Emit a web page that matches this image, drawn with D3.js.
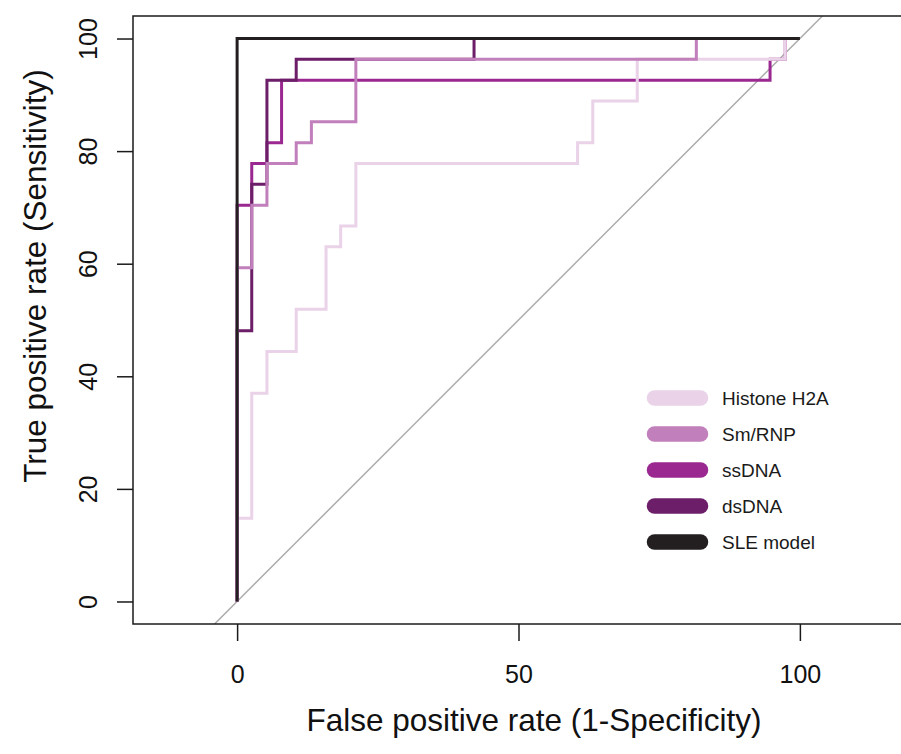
<!DOCTYPE html>
<html>
<head>
<meta charset="utf-8">
<script src="https://cdn.jsdelivr.net/npm/d3@7"></script>
<style>
  html, body { margin: 0; padding: 0; background: #fff; }
  svg { display: block; font-family: "Liberation Sans", Arial, Helvetica, sans-serif; }
</style>
</head>
<body>
<svg id="chart" width="901" height="754"></svg>
<script>
// ---- Data (ROC corner points, percent) ----
const seriesNames = ["Histone H2A", "Sm/RNP", "ssDNA", "dsDNA", "SLE model"];
const seriesColors = ["#ead2e8", "#c17fbb", "#9a2890", "#6c1e68", "#231f20"];

const histoneFPR = [0, 2.6, 5.3, 10.5, 15.8, 18.4, 21.1, 60.5, 63.2, 71.1, 97.4, 100];
const histoneTPR = [0, 14.8, 37.0, 44.4, 51.9, 63.0, 66.7, 77.8, 81.5, 88.9, 96.3, 100];

const smrnpFPR = [0, 2.6, 5.3, 10.5, 13.2, 21.1, 81.6, 100];
const smrnpTPR = [0, 59.3, 70.4, 77.8, 81.5, 85.2, 96.3, 100];

const ssdnaFPR = [0, 2.6, 5.3, 7.9, 94.7, 97.4, 100];
const ssdnaTPR = [0, 70.4, 77.8, 81.5, 92.6, 96.3, 100];

const dsdnaFPR = [0, 2.6, 5.3, 10.5, 42.1, 100];
const dsdnaTPR = [0, 48.1, 74.1, 92.6, 96.3, 100];

const sleFPR = [0, 100];
const sleTPR = [0, 100];

const xTicks = [0, 50, 100];
const yTicks = [0, 20, 40, 60, 80, 100];
const xTitle = "False positive rate (1-Specificity)";
const yTitle = "True positive rate (Sensitivity)";

// drawing order (bottom -> top), indices into seriesNames
const drawOrder = [2, 0, 3, 1, 4];

// ---- Build ----
const fprs = [histoneFPR, smrnpFPR, ssdnaFPR, dsdnaFPR, sleFPR];
const tprs = [histoneTPR, smrnpTPR, ssdnaTPR, dsdnaTPR, sleTPR];
const series = seriesNames.map((name, i) => ({
  name, color: seriesColors[i],
  points: fprs[i].map((f, j) => ({ fpr: f, tpr: tprs[i][j] }))
}));

const svg = d3.select("#chart");
const x = d3.scaleLinear().domain([-18.5, 118.5]).range([133, 904]);
const y = d3.scaleLinear().domain([-4, 104]).range([624, 16]);

// clip for plot area
svg.append("defs").append("clipPath").attr("id", "plotclip")
  .append("rect").attr("x", x(-18.5)).attr("y", y(104))
  .attr("width", x(118.5) - x(-18.5)).attr("height", y(-4) - y(104));

const plot = svg.append("g").attr("clip-path", "url(#plotclip)");

// diagonal reference line y = x
plot.append("line")
  .attr("x1", x(-4)).attr("y1", y(-4))
  .attr("x2", x(104)).attr("y2", y(104))
  .attr("stroke", "#a8a8a8").attr("stroke-width", 1.4);

const line = d3.line()
  .x(d => x(d.fpr)).y(d => y(d.tpr))
  .curve(d3.curveStepBefore);

drawOrder.forEach(i => {
  plot.append("path")
    .datum(series[i].points)
    .attr("d", line)
    .attr("fill", "none")
    .attr("stroke", series[i].color)
    .attr("stroke-width", 3)
    .attr("stroke-linejoin", "miter")
    .attr("stroke-linecap", "butt");
});

// box
svg.append("rect")
  .attr("x", x(-18.5)).attr("y", y(104))
  .attr("width", x(118.5) - x(-18.5)).attr("height", y(-4) - y(104))
  .attr("fill", "none").attr("stroke", "#1a1a1a").attr("stroke-width", 1.5);

// x axis
const xAxis = svg.append("g")
  .attr("transform", `translate(0,${y(-4)})`)
  .call(d3.axisBottom(x).tickValues(xTicks).tickSize(17).tickPadding(24).tickFormat(d3.format("d")));
xAxis.select(".domain").remove();
xAxis.selectAll("line").attr("stroke", "#1a1a1a").attr("stroke-width", 1.5);
xAxis.selectAll("text").attr("font-size", 25).attr("fill", "#111")
  .attr("font-family", "'Liberation Sans', Arial, sans-serif");

// y axis
const yAxis = svg.append("g")
  .attr("transform", `translate(${x(-18.5)},0)`)
  .call(d3.axisLeft(y).tickValues(yTicks).tickSize(16).tickFormat(d3.format("d")));
yAxis.select(".domain").remove();
yAxis.selectAll("line").attr("stroke", "#1a1a1a").attr("stroke-width", 1.5);
yAxis.selectAll("text")
  .attr("x", null).attr("dy", null)
  .attr("transform", "translate(-36,0) rotate(-90)")
  .attr("text-anchor", "middle")
  .attr("font-size", 25).attr("fill", "#111")
  .attr("font-family", "'Liberation Sans', Arial, sans-serif");

// titles
svg.append("text")
  .attr("x", 534).attr("y", 731)
  .attr("text-anchor", "middle")
  .attr("font-size", 31.5).attr("fill", "#111")
  .text(xTitle);

svg.append("text")
  .attr("transform", "translate(46,276) rotate(-90)")
  .attr("text-anchor", "middle")
  .attr("font-size", 31.5).attr("fill", "#111")
  .text(yTitle);

// legend
const legendY = d3.scaleBand().domain(seriesNames).range([380, 560]);
const leg = svg.append("g");
seriesNames.forEach((name, i) => {
  const cy = legendY(name) + legendY.bandwidth() / 2;
  leg.append("line")
    .attr("x1", 654.5).attr("x2", 700.5)
    .attr("y1", cy).attr("y2", cy)
    .attr("stroke", seriesColors[i]).attr("stroke-width", 15.5)
    .attr("stroke-linecap", "round");
  leg.append("text")
    .attr("x", 722).attr("y", cy).attr("dy", "0.36em")
    .attr("font-size", 19).attr("fill", "#1a1a1a")
    .text(name);
});
</script>
</body>
</html>
